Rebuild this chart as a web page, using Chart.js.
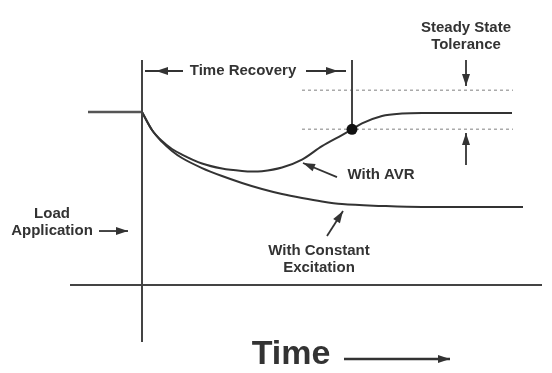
<!DOCTYPE html>
<html>
<head>
<meta charset="utf-8">
<title>Voltage recovery after load application</title>
<script src="https://cdn.jsdelivr.net/npm/chart.js@4/dist/chart.umd.min.js"></script>
<style>
  html, body { margin: 0; padding: 0; background: #fff; }
  #wrap { width: 552px; height: 373px; }
</style>
</head>
<body>
<div id="wrap"><canvas id="chart" width="552" height="373"></canvas></div>
<script>
// time after load step (arbitrary units) and generator voltage (% of nominal)
const avrTime = [0, 1, 2, 3, 4, 6, 8, 10, 11, 12, 14, 16, 18, 20, 21, 22, 24, 26, 28, 37];
const avrVolt = [100, 89.6, 83.2, 78.6, 75.4, 70.2, 67.3, 65.9, 65.6, 65.8, 67.9, 72.5, 80.3, 86.7, 90, 93.4, 97.7, 99.1, 99.4, 99.4];

const excTime = [0, 1, 2, 3, 4, 6, 8, 10, 12, 14, 16, 18, 20, 24, 28, 38.1];
const excVolt = [100, 89.6, 82.7, 77.5, 73.4, 67.6, 63, 59, 55.5, 52.6, 50.3, 48.3, 46.8, 45.7, 45.1, 45.1];

const preLoadTime = [-5.4, 0];
const nominalVolt = 100;

const toleranceTime = [16, 37.1];
const toleranceHigh = 112.5;
const toleranceLow = 90;

const recoveryTime = 21;   // AVR curve enters the tolerance band here
const axisTimeRange = [-7.2, 40];
const axisVoltRange = [-33, 130];

const INK = '#333';
const FONT = 'bold 15px "Liberation Sans", Arial, sans-serif';

const pts = (xs, ys) => xs.map((x, i) => ({x: x, y: ys[i]}));
const flat = (xs, v) => xs.map(x => ({x: x, y: v}));

// text and arrows, placed in (time, volt) units
const labels = [
    {text: 'Time Recovery', t: 10.1, v: 123.7},
    {text: 'Steady State', t: 32.4, v: 148.6},
    {text: 'Tolerance', t: 32.4, v: 138.7},
    {text: 'With AVR', t: 23.9, v: 63.6},
    {text: 'With Constant', t: 17.7, v: 19.7},
    {text: 'Excitation', t: 17.7, v: 9.8},
    {text: 'Load', t: -9, v: 41},
    {text: 'Application', t: -9, v: 31.2},
    {text: 'Time', t: 14.9, v: -40.5, font: 'bold 34px "Liberation Sans", Arial, sans-serif'}
];

const arrows = [
    {from: [4.1, 123.7], to: [0.3, 123.7], tip: [1.4, 123.7]},
    {from: [16.4, 123.7], to: [20.4, 123.7], tip: [19.6, 123.7]},
    {from: [32.4, 130], to: [32.4, 115], tip: [32.4, 115]},
    {from: [32.4, 69.4], to: [32.4, 87.9], tip: [32.4, 87.9]},
    {from: [-4.3, 31.2], to: [-1.4, 31.2], tip: [-1.4, 31.2]},
    {from: [19.5, 62.4], to: [16.1, 70.5], tip: [16.1, 70.5]},
    {from: [18.5, 28.3], to: [20.1, 42.8], tip: [20.1, 42.8]},
    {from: [20.2, -42.8], to: [30.8, -42.8], tip: [30.8, -42.8], width: 2.5}
];

const annotate = {
    id: 'annotate',
    afterDatasetsDraw(chart) {
        const ctx = chart.ctx;
        const sx = chart.scales.x, sy = chart.scales.y;
        const px = p => [sx.getPixelForValue(p[0]), sy.getPixelForValue(p[1])];
        ctx.save();
        ctx.fillStyle = INK;
        ctx.strokeStyle = INK;
        ctx.textAlign = 'center';
        ctx.textBaseline = 'middle';
        labels.forEach(l => {
            ctx.font = l.font || FONT;
            ctx.fillText(l.text, sx.getPixelForValue(l.t), sy.getPixelForValue(l.v));
        });
        arrows.forEach(a => {
            const [x0, y0] = px(a.from), [x1, y1] = px(a.to), [tx, ty] = px(a.tip);
            ctx.lineWidth = a.width || 1.8;
            ctx.beginPath();
            ctx.moveTo(x0, y0);
            ctx.lineTo(x1, y1);
            ctx.stroke();
            const ang = Math.atan2(y1 - y0, x1 - x0);
            const len = 12, half = 4;
            ctx.beginPath();
            ctx.moveTo(tx, ty);
            ctx.lineTo(tx - len * Math.cos(ang) + half * Math.sin(ang), ty - len * Math.sin(ang) - half * Math.cos(ang));
            ctx.lineTo(tx - len * Math.cos(ang) - half * Math.sin(ang), ty - len * Math.sin(ang) + half * Math.cos(ang));
            ctx.closePath();
            ctx.fill();
        });
        ctx.restore();
    }
};

const lineSet = (data, extra) => Object.assign({
    data: data,
    borderColor: INK,
    borderWidth: 2,
    pointRadius: 0,
    fill: false,
    cubicInterpolationMode: 'monotone'
}, extra || {});

new Chart(document.getElementById('chart'), {
    type: 'line',
    data: {
        datasets: [
            lineSet(flat(axisTimeRange, 0), {borderColor: '#444'}),
            lineSet([{x: 0, y: axisVoltRange[0]}, {x: 0, y: axisVoltRange[1]}], {borderColor: '#444'}),
            lineSet([{x: recoveryTime, y: toleranceLow}, {x: recoveryTime, y: axisVoltRange[1]}], {borderColor: '#444'}),
            lineSet(flat(toleranceTime, toleranceHigh), {borderColor: '#aaa', borderWidth: 1.5, borderDash: [3, 3]}),
            lineSet(flat(toleranceTime, toleranceLow), {borderColor: '#aaa', borderWidth: 1.5, borderDash: [3, 3]}),
            lineSet(flat(preLoadTime, nominalVolt), {borderColor: '#555', borderWidth: 2.5}),
            lineSet(pts(excTime, excVolt)),
            lineSet(pts(avrTime, avrVolt)),
            {
                type: 'scatter',
                order: -1,   // keep the marker on top of the band lines
                data: [{x: recoveryTime, y: toleranceLow}],
                pointRadius: 5.5,
                pointBackgroundColor: '#111',
                pointBorderWidth: 0
            }
        ]
    },
    options: {
        responsive: false,
        animation: false,
        layout: {padding: 0, autoPadding: false},
        scales: {
            x: {type: 'linear', min: -14.2, max: 41.0, display: false},
            y: {type: 'linear', min: -50.87, max: 164.74, display: false}
        },
        plugins: {legend: {display: false}, tooltip: {enabled: false}}
    },
    plugins: [annotate]
});
</script>
</body>
</html>
